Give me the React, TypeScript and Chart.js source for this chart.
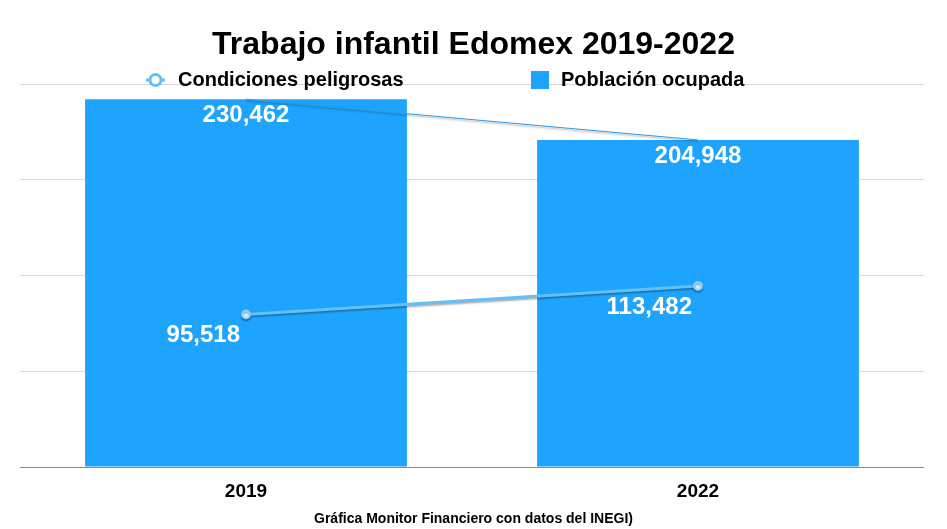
import React, { useEffect, useRef } from "react";
import { Chart, registerables } from "chart.js";

Chart.register(...registerables);

const TITLE = "Trabajo infantil Edomex 2019-2022";
const FOOTER = "Gráfica Monitor Financiero con datos del INEGI)";
const categories = ["2019", "2022"];
const poblacionOcupada = [230462, 204948];
const condicionesPeligrosas = [95518, 113482];
const yTicks = [0, 60000, 120000, 180000, 240000];
const legendLabels = ["Condiciones peligrosas", "Población ocupada"];

const BAR_COLOR = "#1ea4ff";
const LINE_COLOR = "#62c0f6";
const FONT = "'Liberation Sans', Arial, sans-serif";

const fmt = (v: number) => v.toLocaleString("en-US");

const overlayPlugin = {
  id: "overlay",
  beforeDatasetDraw(chart: any, args: any) {
    const ds = chart.data.datasets[args.index];
    if (ds.type === "line") {
      const ctx = chart.ctx;
      ctx.save();
      ctx.shadowColor = "rgba(0,0,0,0.35)";
      ctx.shadowBlur = 2;
      ctx.shadowOffsetY = 1.5;
    }
  },
  afterDatasetDraw(chart: any, args: any) {
    const ds = chart.data.datasets[args.index];
    if (ds.type === "line") chart.ctx.restore();
  },
  afterDraw(chart: any) {
    const ctx = chart.ctx;
    const w = chart.width;
    ctx.save();
    // Title
    ctx.fillStyle = "#000";
    ctx.textAlign = "center";
    ctx.textBaseline = "middle";
    ctx.font = `bold 32px ${FONT}`;
    ctx.fillText(TITLE, w / 2, 45);
    // Legend
    ctx.font = `bold 20px ${FONT}`;
    ctx.textAlign = "left";
    const ly = 80;
    ctx.strokeStyle = LINE_COLOR;
    ctx.lineWidth = 3;
    ctx.beginPath();
    ctx.moveTo(146, ly);
    ctx.lineTo(165, ly);
    ctx.stroke();
    ctx.fillStyle = "#fff";
    ctx.beginPath();
    ctx.arc(155.5, ly, 5.5, 0, Math.PI * 2);
    ctx.fill();
    ctx.stroke();
    ctx.fillStyle = "#000";
    ctx.fillText(legendLabels[0], 178, ly);
    ctx.fillStyle = BAR_COLOR;
    ctx.fillRect(531, ly - 9, 18, 18);
    ctx.fillStyle = "#000";
    ctx.fillText(legendLabels[1], 561, ly);
    // Footer
    ctx.textAlign = "center";
    ctx.font = `bold 14px ${FONT}`;
    ctx.fillText(FOOTER, w / 2, 519);
    // Data labels
    ctx.fillStyle = "#fff";
    ctx.font = `bold 24px ${FONT}`;
    const barMeta = chart.getDatasetMeta(0);
    barMeta.data.forEach((el: any, i: number) => {
      ctx.textAlign = "center";
      ctx.fillText(fmt(poblacionOcupada[i]), el.x, el.y + 16);
    });
    const lineMeta = chart.getDatasetMeta(1);
    lineMeta.data.forEach((el: any, i: number) => {
      ctx.textAlign = "right";
      ctx.fillText(fmt(condicionesPeligrosas[i]), el.x - 6, el.y + 21);
    });
    ctx.restore();
  },
};

export default function App() {
  const ref = useRef<HTMLCanvasElement>(null);
  useEffect(() => {
    document.body.style.margin = "0";
    const chart = new Chart(ref.current!, {
      data: {
        labels: categories,
        datasets: [
          {
            type: "bar",
            label: legendLabels[1],
            data: poblacionOcupada,
            backgroundColor: BAR_COLOR,
            barPercentage: 0.712,
            categoryPercentage: 1,
            order: 3,
          },
          {
            type: "line",
            label: legendLabels[0],
            data: condicionesPeligrosas,
            borderColor: LINE_COLOR,
            borderWidth: 3,
            pointRadius: 4,
            pointBackgroundColor: "#d8f0fd",
            pointBorderColor: "#86cff7",
            pointBorderWidth: 2,
            order: 1,
          },
          {
            type: "line",
            label: "trend",
            data: poblacionOcupada,
            borderColor: "#2d9be6",
            borderWidth: 1,
            pointRadius: 0,
            order: 2,
          },
        ],
      } as any,
      options: {
        animation: false,
        responsive: false,
        layout: { padding: { top: 84, left: 20, right: 23, bottom: 22 } },
        plugins: {
          legend: { display: false },
          title: { display: false },
          tooltip: { enabled: false },
        },
        scales: {
          x: {
            grid: { display: false, drawTicks: false },
            border: { display: false },
            ticks: {
              color: "#000",
              font: { family: FONT, size: 19, weight: "bold" },
              padding: 13,
            },
            afterFit: (s: any) => {
              s.height = 40;
            },
          },
          y: {
            min: 0,
            max: 240000,
            afterBuildTicks: (s: any) => {
              s.ticks = yTicks.map((v) => ({ value: v }));
            },
            ticks: { display: false },
            grid: {
              color: (c: any) => (c.tick && c.tick.value === 0 ? "#888" : "#d9d9d9"),
              lineWidth: 1,
              drawTicks: false,
            },
            border: { display: false },
            afterFit: (s: any) => {
              s.width = 0;
            },
          },
        },
      } as any,
      plugins: [overlayPlugin],
    });
    return () => chart.destroy();
  }, []);
  return <canvas ref={ref} width={947} height={529} style={{ display: "block" }} />;
}
